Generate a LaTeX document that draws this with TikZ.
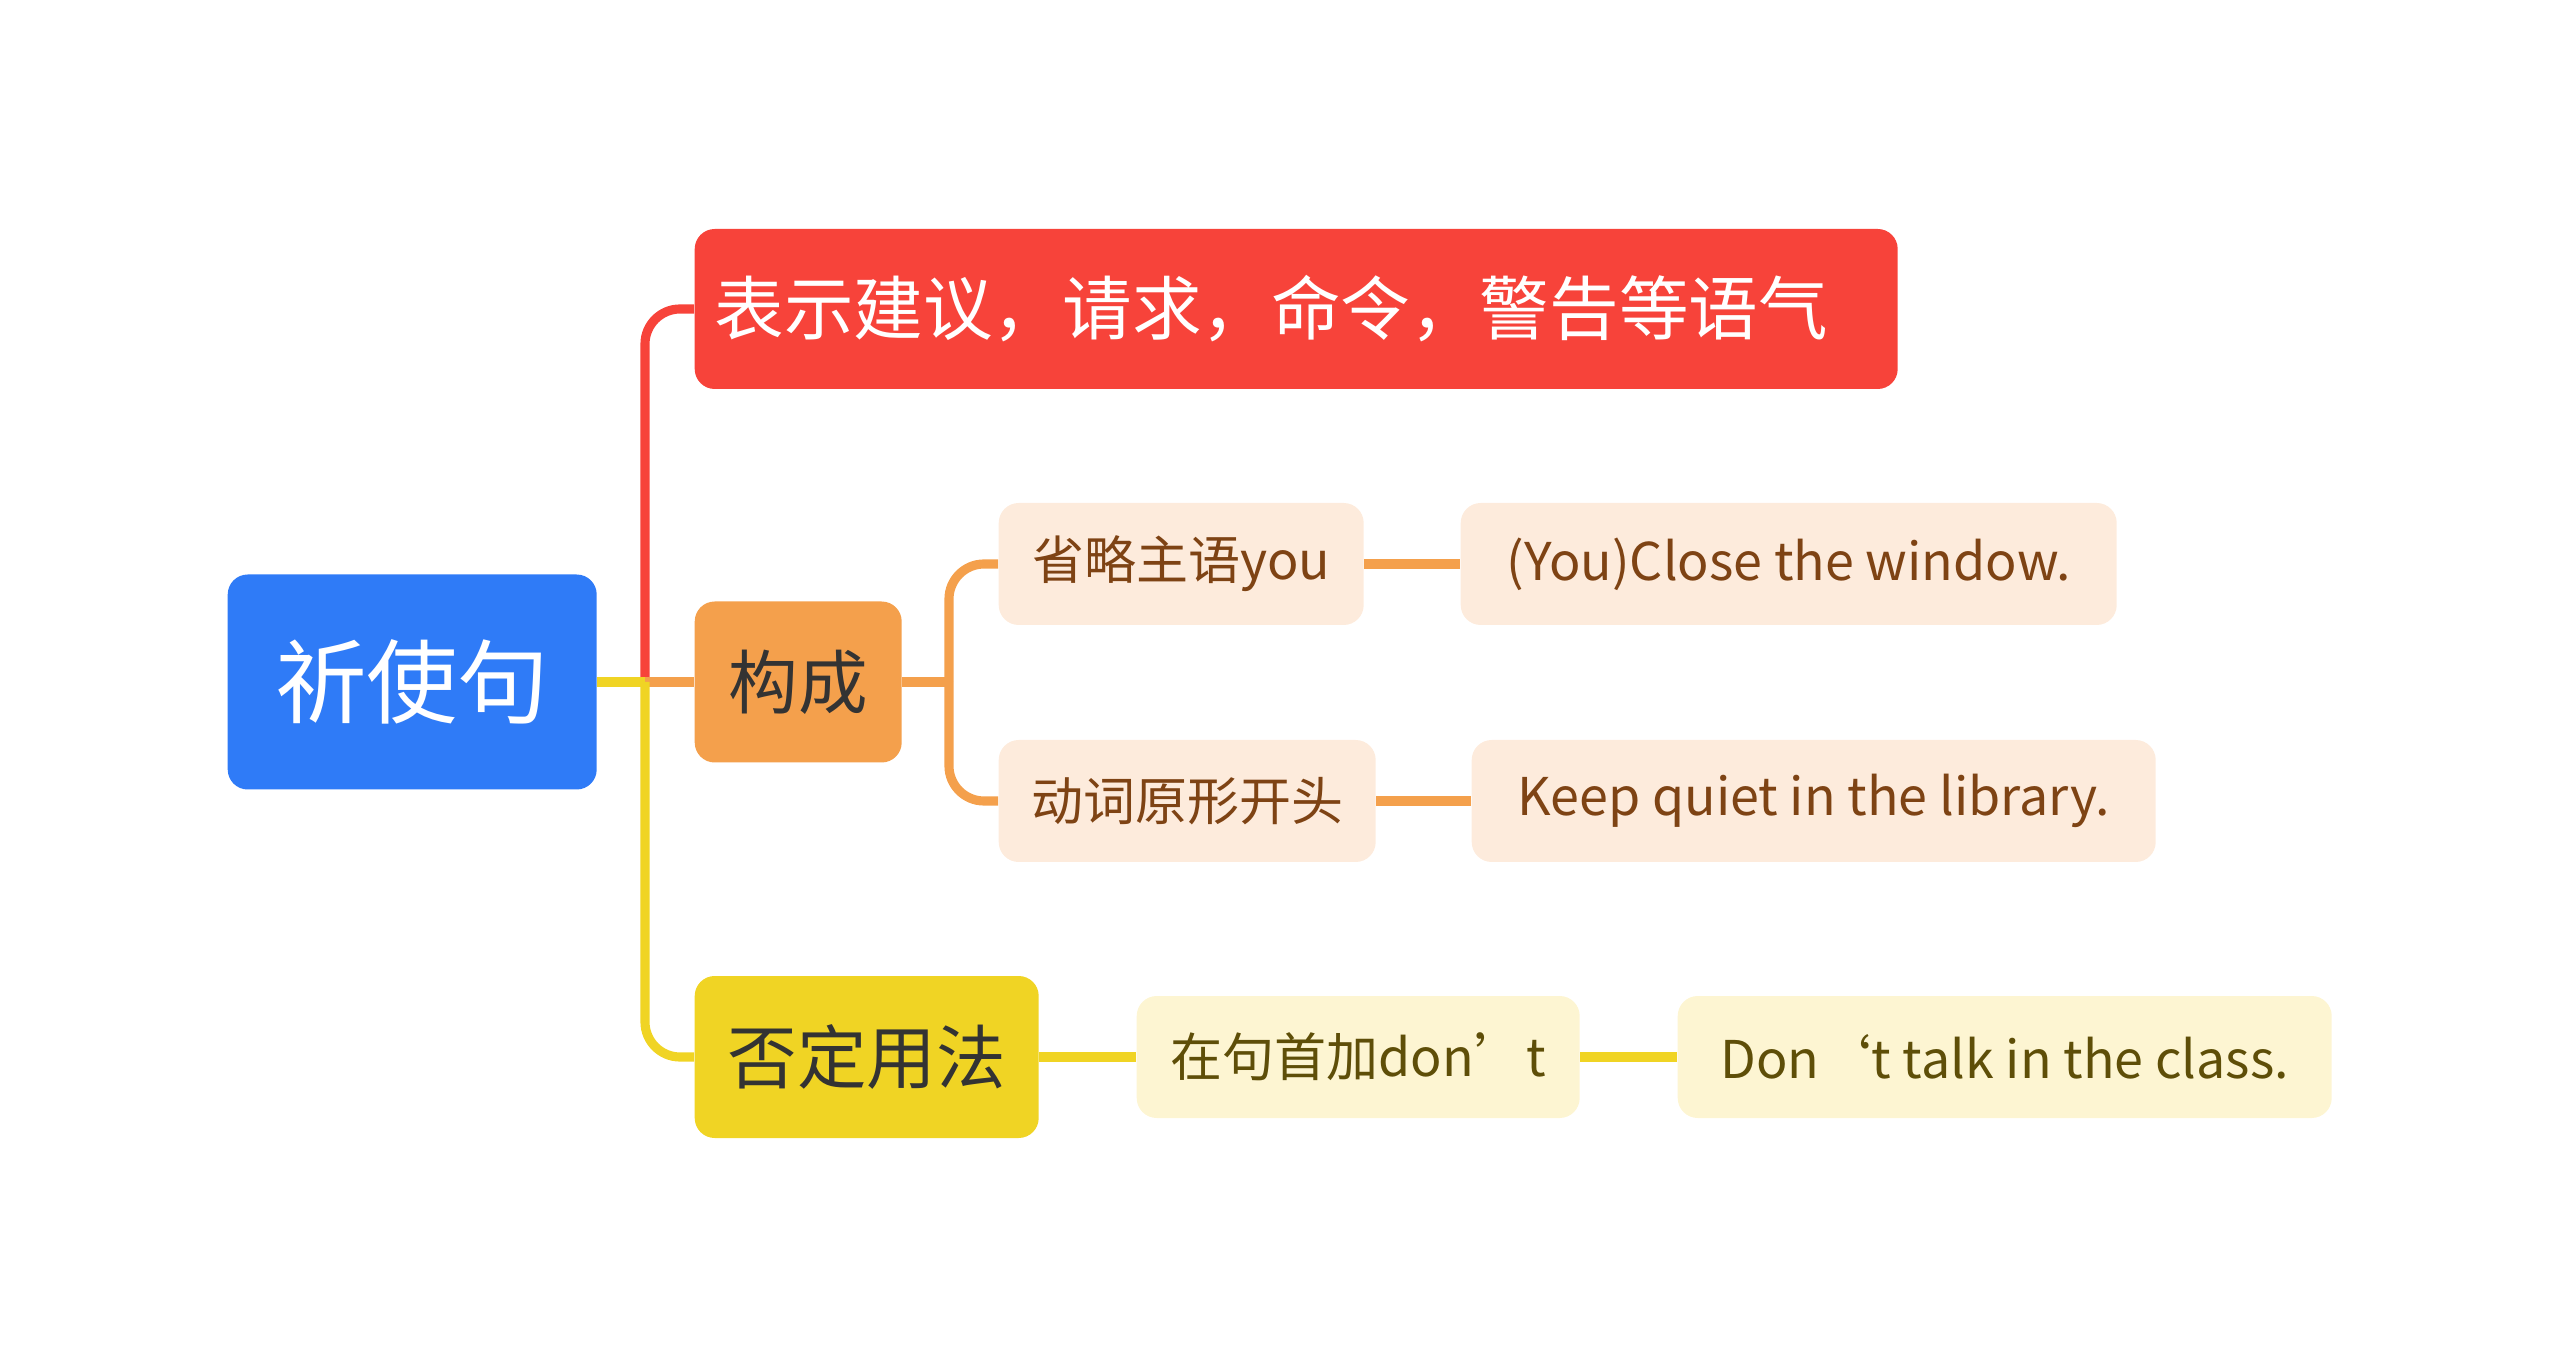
\documentclass[tikz,border=0pt]{standalone}
\usepackage{fontspec}
\setmainfont{Noto Sans CJK SC}
\definecolor{rootblue}{HTML}{2F7BF7}
\definecolor{topred}{HTML}{F7433A}
\definecolor{midorange}{HTML}{F4A04C}
\definecolor{lowyellow}{HTML}{F0D424}
\definecolor{leaforange}{HTML}{FDEBDC}
\definecolor{leafyellow}{HTML}{FDF5D2}
\definecolor{txtbrown}{HTML}{7E4314}
\definecolor{txtolive}{HTML}{5E4E08}
\tikzset{
  box/.style={anchor=west, rounded corners=0.2cm, inner sep=0pt, align=center},
  leafbox/.style={box, minimum height=1.22cm, font=\fontsize{14.8}{17}\selectfont},
  line/.style={line width=2.6pt},
}
\begin{document}
\begin{tikzpicture}
  \useasboundingbox (0,0) rectangle (25.6,-13.66);
  % main branches
  \node[box, fill=rootblue, text=white, minimum width=3.69cm, minimum height=2.15cm,
    font=\fontsize{26}{30}\selectfont] (root) at (2.27,-6.82) {祈使句};
  \node[box, fill=topred, text=white, minimum width=12.03cm, minimum height=1.60cm,
    font=\fontsize{19.8}{23}\selectfont] (mood) at (6.94,-3.09) {表示建议，请求，命令，警告等语气\hspace{0.5cm}};
  \node[box, fill=midorange, text=black!80, minimum width=2.07cm, minimum height=1.61cm,
    font=\fontsize{19.8}{23}\selectfont] (form) at (6.94,-6.82) {构成};
  \node[box, fill=lowyellow, text=black!80, minimum width=3.44cm, minimum height=1.62cm,
    font=\fontsize{19.8}{23}\selectfont] (neg) at (6.94,-10.57) {否定用法};
  % leaves
  \node[leafbox, fill=leaforange, text=txtbrown, minimum width=3.65cm] (omit) at (9.98,-5.64) {省略主语you};
  \node[leafbox, fill=leaforange, text=txtbrown, minimum width=6.56cm] (close) at (14.60,-5.64) {(You)Close the window.};
  \node[leafbox, fill=leaforange, text=txtbrown, minimum width=3.77cm] (verb) at (9.98,-8.01) {动词原形开头};
  \node[leafbox, fill=leaforange, text=txtbrown, minimum width=6.84cm] (quiet) at (14.71,-8.01) {Keep quiet in the library.};
  \node[leafbox, fill=leafyellow, text=txtolive, minimum width=4.43cm] (dont) at (11.36,-10.57) {在句首加don’t};
  \node[leafbox, fill=leafyellow, text=txtolive, minimum width=6.54cm] (talk) at (16.77,-10.57) {Don‘t talk in the class.};
  % connectors
  \coordinate (trunk) at (6.45,-6.82);
  \coordinate (fork) at (9.49,-6.82);
  \draw[line, topred, rounded corners=0.35cm] (trunk) |- (mood.west);
  \draw[line, midorange] (trunk) -- (form.west);
  \draw[line, lowyellow, rounded corners=0.35cm] (trunk) |- (neg.west);
  \draw[line, lowyellow] (root.east) -- (trunk);
  \draw[line, midorange] (form.east) -- (fork);
  \draw[line, midorange, rounded corners=0.35cm] (fork) |- (omit.west);
  \draw[line, midorange, rounded corners=0.35cm] (fork) |- (verb.west);
  \draw[line, midorange] (omit.east) -- (close.west);
  \draw[line, midorange] (verb.east) -- (quiet.west);
  \draw[line, lowyellow] (neg.east) -- (dont.west);
  \draw[line, lowyellow] (dont.east) -- (talk.west);
\end{tikzpicture}
\end{document}
